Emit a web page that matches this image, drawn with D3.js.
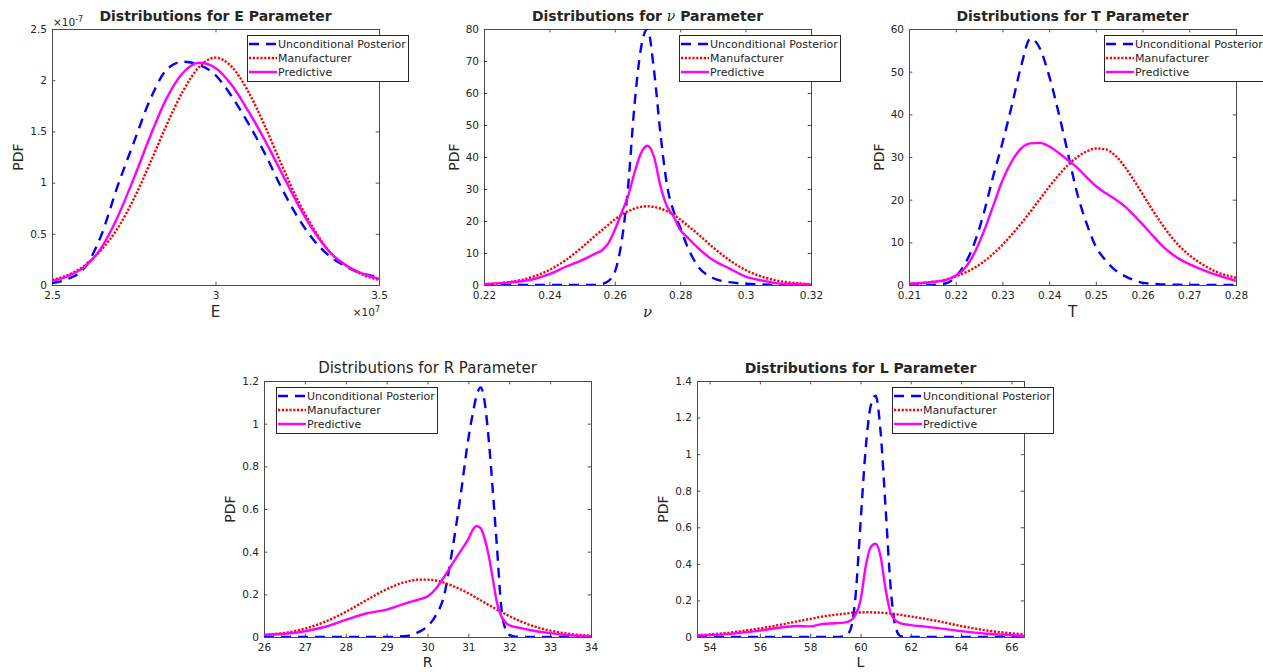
<!DOCTYPE html>
<html>
<head>
<meta charset="utf-8">
<script src="https://cdn.jsdelivr.net/npm/d3@7"></script>
<style>
body { margin: 0; background: #fff; }
svg text { font-family: "DejaVu Sans", sans-serif; fill: #262626; }
</style>
</head>
<body>
<script>
// ---- E parameter (x in 1e7, y in 1e-7) ----
var eX       = [2.50, 2.55, 2.60, 2.65, 2.70, 2.75, 2.80, 2.85, 2.90, 2.95, 3.00, 3.05, 3.10, 3.15, 3.20, 3.25, 3.30, 3.35, 3.40, 3.45, 3.50];
var eUncond  = [0.02, 0.06, 0.17, 0.48, 0.96, 1.39, 1.81, 2.10, 2.18, 2.15, 2.05, 1.84, 1.58, 1.29, 0.96, 0.67, 0.44, 0.28, 0.18, 0.11, 0.08];
var eManuf   = [0.05, 0.10, 0.19, 0.34, 0.55, 0.84, 1.19, 1.56, 1.89, 2.13, 2.22, 2.13, 1.89, 1.56, 1.19, 0.84, 0.55, 0.32, 0.19, 0.10, 0.05];
var ePred    = [0.04, 0.09, 0.18, 0.36, 0.66, 1.04, 1.45, 1.82, 2.07, 2.17, 2.12, 1.95, 1.70, 1.42, 1.11, 0.80, 0.53, 0.32, 0.19, 0.11, 0.06];
var eXTicks  = [2.5, 3, 3.5];
var eYTicks  = [0, 0.5, 1, 1.5, 2, 2.5];

// ---- nu parameter ----
var nuX      = [0.220, 0.225, 0.230, 0.235, 0.240, 0.245, 0.250, 0.254, 0.256, 0.258, 0.260, 0.262, 0.264, 0.266, 0.268, 0.270, 0.272, 0.274, 0.276, 0.278, 0.280, 0.282, 0.285, 0.290, 0.295, 0.300, 0.305, 0.310, 0.315, 0.320];
var nuUncond = [0, 0, 0, 0, 0, 0, 0, 0.05, 0.3, 1.2, 4, 13, 30, 56, 74, 80, 67, 47, 31, 23, 18, 12.5, 6.5, 2.2, 0.9, 0.4, 0.2, 0.1, 0.05, 0];
var nuManuf  = [0.25, 0.6, 1.3, 2.6, 4.7, 7.8, 11.8, 15.4, 17.1, 18.8, 20.5, 21.9, 23.0, 23.9, 24.4, 24.6, 24.4, 23.9, 23.0, 21.9, 20.5, 18.8, 16.3, 11.8, 7.8, 4.7, 2.6, 1.3, 0.6, 0.25];
var nuPred   = [0.3, 0.6, 1.0, 1.8, 3.4, 5.7, 7.8, 9.8, 10.8, 13, 17.2, 22.4, 27.6, 35, 41.2, 43.5, 40, 30.8, 24.5, 21.4, 17.2, 15.1, 12, 7.8, 5.2, 2.6, 1.4, 0.5, 0.3, 0.2];
var nuXTicks = [0.22, 0.24, 0.26, 0.28, 0.3, 0.32];
var nuYTicks = [0, 10, 20, 30, 40, 50, 60, 70, 80];

// ---- T parameter ----
var tX       = [0.210, 0.214, 0.218, 0.220, 0.222, 0.224, 0.226, 0.228, 0.230, 0.232, 0.234, 0.236, 0.238, 0.240, 0.242, 0.244, 0.246, 0.248, 0.250, 0.252, 0.254, 0.256, 0.258, 0.260, 0.262, 0.264, 0.266, 0.268, 0.270, 0.273, 0.276, 0.280];
var tUncond  = [0, 0, 0.4, 2, 5, 9.8, 16.8, 25.4, 33.3, 42, 51.3, 57.8, 55.5, 49, 40.5, 31, 21.5, 14.5, 9.0, 5.9, 3.6, 2.2, 1.2, 0.5, 0.3, 0.15, 0.1, 0.05, 0, 0, 0, 0];
var tManuf   = [0.3, 0.6, 1.3, 2.0, 2.9, 4.0, 5.5, 7.3, 9.4, 11.8, 14.4, 17.2, 20.1, 23.0, 25.7, 28.1, 30.0, 31.3, 32.0, 31.8, 30.5, 28.0, 24.8, 21.3, 17.8, 14.5, 11.5, 9.0, 7.0, 4.7, 3.0, 1.7];
var tPred    = [0.3, 0.6, 1.2, 2.2, 4, 7.5, 12.5, 18.5, 24.5, 29, 32, 33.2, 33.3, 32.5, 31, 29.3, 27.5, 25.3, 23.2, 21.6, 20.2, 18.6, 16.5, 14.2, 11.8, 9.4, 7.5, 6.0, 4.9, 3.5, 2.3, 1.0];
var tXTicks  = [0.21, 0.22, 0.23, 0.24, 0.25, 0.26, 0.27, 0.28];
var tYTicks  = [0, 10, 20, 30, 40, 50, 60];

// ---- R parameter ----
var rX       = [26, 26.5, 27, 27.5, 28, 28.5, 29, 29.5, 29.8, 30, 30.2, 30.4, 30.6, 30.8, 31, 31.1, 31.2, 31.3, 31.4, 31.5, 31.6, 31.7, 31.8, 31.9, 32, 32.25, 32.5, 33, 33.5, 34];
var rUncond  = [0, 0, 0, 0, 0, 0, 0, 0.005, 0.025, 0.05, 0.10, 0.19, 0.40, 0.65, 0.93, 1.04, 1.13, 1.17, 1.10, 0.92, 0.68, 0.42, 0.15, 0.04, 0.01, 0, 0, 0, 0, 0];
var rManuf   = [0.010, 0.019, 0.039, 0.072, 0.118, 0.172, 0.224, 0.260, 0.269, 0.269, 0.265, 0.255, 0.241, 0.224, 0.205, 0.194, 0.183, 0.172, 0.161, 0.150, 0.139, 0.129, 0.118, 0.108, 0.098, 0.076, 0.057, 0.030, 0.014, 0.006];
var rPred    = [0.01, 0.015, 0.027, 0.048, 0.08, 0.11, 0.128, 0.16, 0.176, 0.19, 0.225, 0.28, 0.34, 0.40, 0.46, 0.50, 0.52, 0.51, 0.46, 0.38, 0.27, 0.16, 0.10, 0.07, 0.055, 0.043, 0.033, 0.018, 0.008, 0.004];
var rXTicks  = [26, 27, 28, 29, 30, 31, 32, 33, 34];
var rYTicks  = [0, 0.2, 0.4, 0.6, 0.8, 1, 1.2];

// ---- L parameter ----
var lX       = [53.5, 54, 55, 56, 57, 57.5, 58, 58.5, 59, 59.4, 59.6, 59.8, 60, 60.2, 60.4, 60.6, 60.8, 61, 61.2, 61.4, 61.6, 62, 62.5, 63, 64, 65, 66, 66.5];
var lUncond  = [0, 0, 0, 0, 0, 0, 0, 0, 0, 0.005, 0.04, 0.22, 0.62, 1.02, 1.26, 1.32, 1.12, 0.70, 0.27, 0.05, 0.005, 0, 0, 0, 0, 0, 0, 0];
var lManuf   = [0.0095, 0.014, 0.027, 0.047, 0.072, 0.086, 0.099, 0.112, 0.122, 0.128, 0.131, 0.133, 0.134, 0.135, 0.135, 0.134, 0.133, 0.131, 0.128, 0.125, 0.121, 0.112, 0.101, 0.089, 0.060, 0.036, 0.020, 0.014];
var lPred    = [0.008, 0.01, 0.02, 0.035, 0.055, 0.06, 0.058, 0.072, 0.075, 0.08, 0.09, 0.12, 0.20, 0.38, 0.49, 0.51, 0.44, 0.26, 0.13, 0.09, 0.075, 0.065, 0.058, 0.05, 0.032, 0.018, 0.01, 0.006];
var lXTicks  = [54, 56, 58, 60, 62, 64, 66];
var lYTicks  = [0, 0.2, 0.4, 0.6, 0.8, 1, 1.2, 1.4];

var seriesNames = ["Unconditional Posterior", "Manufacturer", "Predictive"];

// line styles
var styles = [
    { color: "#0000ff", dash: "10,7" },
    { color: "#ff0000", dash: "2.2,1.6" },
    { color: "#ff00ff", dash: null }
];

var boxW = 327, boxH = 256;

var panels = [
    { sym: "E", italic: false, bold: true, x: eX, ys: [eUncond, eManuf, ePred], xDom: [2.5, 3.5], yDom: [0, 2.5],
      xTicks: eXTicks, yTicks: eYTicks, left: 52, top: 29, legend: "right", exp: true },
    { sym: "\u03bd", italic: true, bold: true, x: nuX, ys: [nuUncond, nuManuf, nuPred], xDom: [0.22, 0.32], yDom: [0, 80],
      xTicks: nuXTicks, yTicks: nuYTicks, left: 484, top: 29, legend: "right" },
    { sym: "T", italic: false, bold: true, x: tX, ys: [tUncond, tManuf, tPred], xDom: [0.21, 0.28], yDom: [0, 60],
      xTicks: tXTicks, yTicks: tYTicks, left: 909, top: 29, legend: "right" },
    { sym: "R", italic: false, bold: false, x: rX, ys: [rUncond, rManuf, rPred], xDom: [26, 34], yDom: [0, 1.2],
      xTicks: rXTicks, yTicks: rYTicks, left: 264, top: 381, legend: "left" },
    { sym: "L", italic: false, bold: true, x: lX, ys: [lUncond, lManuf, lPred], xDom: [53.5, 66.5], yDom: [0, 1.4],
      xTicks: lXTicks, yTicks: lYTicks, left: 697, top: 381, legend: "right" }
];

var svg = d3.select("body").append("svg")
    .attr("width", 1263)
    .attr("height", 672);

panels.forEach(function(p, pi) {
    var g = svg.append("g").attr("transform", `translate(${p.left}, ${p.top})`);

    var x = d3.scaleLinear().domain(p.xDom).range([0, boxW]);
    var y = d3.scaleLinear().domain(p.yDom).range([boxH, 0]);

    // clip
    svg.append("clipPath").attr("id", "clip" + pi)
        .append("rect").attr("width", boxW).attr("height", boxH);

    // axes (ticks point inward on all four sides)
    g.append("g").attr("transform", `translate(0, ${boxH})`)
        .call(d3.axisBottom(x).tickValues(p.xTicks).tickSizeInner(-3.3).tickSizeOuter(0).tickPadding(7).tickFormat(d3.format("~g")));
    g.append("g")
        .call(d3.axisTop(x).tickValues(p.xTicks).tickSizeInner(-3.3).tickSizeOuter(0).tickFormat(""));
    var left = g.append("g")
        .call(d3.axisLeft(y).tickValues(p.yTicks).tickSizeInner(-3.3).tickSizeOuter(0).tickPadding(5).tickFormat(d3.format("~g")));
    g.append("g").attr("transform", `translate(${boxW}, 0)`)
        .call(d3.axisRight(y).tickValues(p.yTicks).tickSizeInner(-3.3).tickSizeOuter(0).tickFormat(""));

    g.selectAll(".domain").remove();
    g.selectAll(".tick line").attr("stroke", "#262626").attr("stroke-width", 0.8);
    g.selectAll(".tick text").attr("font-size", "10.5px").attr("fill", "#333")
        .style("font-family", "'DejaVu Sans', sans-serif");

    // box
    g.append("rect")
        .attr("width", boxW).attr("height", boxH)
        .attr("fill", "none")
        .attr("stroke", "#4a4a4a")
        .attr("stroke-width", 1)
        .attr("shape-rendering", "crispEdges");

    // curves
    var line = d3.line()
        .x((d, i) => x(p.x[i]))
        .y(d => y(d))
        .curve(d3.curveMonotoneX);

    var plot = g.append("g").attr("clip-path", `url(#clip${pi})`);
    p.ys.forEach(function(vals, si) {
        plot.append("path")
            .datum(vals)
            .attr("d", line)
            .attr("fill", "none")
            .attr("stroke", styles[si].color)
            .attr("stroke-width", 2.4)
            .attr("stroke-dasharray", styles[si].dash)
            .attr("stroke-linejoin", "round");
    });

    // title
    var title = g.append("text")
        .attr("x", boxW / 2)
        .attr("y", -8)
        .attr("text-anchor", "middle")
        .attr("font-size", p.bold ? "14px" : "15px")
        .attr("font-weight", p.bold ? "bold" : "normal")
        .attr("fill", "#000");
    title.append("tspan").text("Distributions for ");
    title.append("tspan").text(p.sym)
        .attr("font-style", p.italic ? "italic" : null)
        .attr("font-weight", p.italic ? "normal" : null)
        .style("font-family", p.italic ? "'DejaVu Serif', serif" : null);
    title.append("tspan").text(" Parameter");

    // x label
    var bottomRow = p.top > 300;
    g.append("text")
        .attr("x", boxW / 2)
        .attr("y", boxH + (bottomRow ? 30 : 32))
        .attr("text-anchor", "middle")
        .attr("font-size", bottomRow ? "14px" : "15px")
        .attr("font-style", p.italic ? "italic" : null)
        .style("font-family", p.italic ? "'DejaVu Serif', serif" : null)
        .text(p.sym);

    // y label
    var lb = left.node().getBBox();
    g.append("text")
        .attr("transform", `translate(${lb.x - 7}, ${boxH / 2}) rotate(-90)`)
        .attr("text-anchor", "middle")
        .attr("font-size", "14px")
        .text("PDF");

    // exponent labels
    if (p.exp) {
        var ey = g.append("text").attr("x", 1).attr("y", -3).attr("font-size", "10.5px");
        ey.append("tspan").text("\u00d710");
        ey.append("tspan").attr("dy", -4).attr("font-size", "8px").text("-7");
        var ex = g.append("text").attr("x", boxW + 1).attr("y", boxH + 31)
            .attr("text-anchor", "end").attr("font-size", "10.5px");
        ex.append("tspan").text("\u00d710");
        ex.append("tspan").attr("dy", -4).attr("font-size", "8px").text("7");
    }

    // legend
    var lx = p.legend === "right" ? boxW - 132 : 12;
    var leg = g.append("g").attr("transform", `translate(${lx}, 6)`);
    leg.append("rect")
        .attr("width", 161).attr("height", 46)
        .attr("fill", "#fff")
        .attr("stroke", "#262626")
        .attr("stroke-width", 1)
        .attr("shape-rendering", "crispEdges");
    seriesNames.forEach(function(name, si) {
        var ry = 9 + si * 14;
        leg.append("line")
            .attr("x1", 2).attr("x2", 30)
            .attr("y1", ry).attr("y2", ry)
            .attr("stroke", styles[si].color)
            .attr("stroke-width", 2.4)
            .attr("stroke-dasharray", styles[si].dash);
        leg.append("text")
            .attr("x", 31).attr("y", ry)
            .attr("dy", "0.36em")
            .attr("font-size", "11px")
            .attr("fill", "#000")
            .text(name);
    });
});
</script>
</body>
</html>
